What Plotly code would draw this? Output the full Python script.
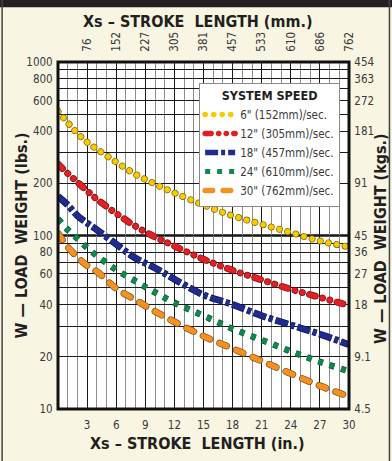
import plotly.graph_objects as go

stroke_in = [0, 1, 2, 3, 4, 6, 8, 10, 12, 15, 18, 21, 24, 27, 30]

# Load weight (lbs.) for each system speed
w_6 = [520, 447, 388, 345, 315, 265, 225, 198, 176, 150, 130, 116, 104, 93, 86]
w_12 = [258, 228, 203, 181, 162, 134, 113, 98, 87, 73, 63, 55.5, 49, 44, 39.5]
w_18 = [168, 150, 130, 118, 108, 89, 74, 65, 56, 45.5, 40, 34.5, 30.5, 27, 23.5]
w_24 = [125, 108, 96, 85, 76.5, 63.5, 54.5, 47, 41, 34.5, 29, 25, 21.5, 18.7, 16.5]
w_30 = [103, 86, 75, 67, 62, 49.5, 42.5, 36.5, 31.8, 26.3, 22.3, 18.9, 16, 13.6, 11.8]

speed_names = ['6" (152mm)/sec.', '12" (305mm)/sec.', '18" (457mm)/sec.',
               '24" (610mm)/sec.', '30" (762mm)/sec.']

# Axis ticks
x_ticks = [3, 6, 9, 12, 15, 18, 21, 24, 27, 30]
x_mm_labels = ['76', '152', '227', '305', '381', '457', '533', '610', '686', '762']
lbs_ticks = [10, 20, 40, 60, 80, 100, 200, 400, 600, 800, 1000]
lbs_labels = ['10', '20', '40', '60', '80', '100', '200', '400', '600', '800', '1000']
kg_labels = ['4.5', '9.1', '18', '27', '36', '45', '91', '181', '272', '363', '454']
lbs_minor = [30, 50, 70, 90, 300, 500, 700, 900]

FONT = "DejaVu Sans Condensed, Liberation Sans, sans-serif"
INK = '#231f20'
TICK = '#3a3a3a'
HIDE = 'rgba(0,0,0,0)'

# colour, outline colour, width, dash, round caps
styles = [
    ('#fbc900', '#7d6400', 5.5, '0.1px,8.4px', True),
    ('#e31e24', '#7a1015', 5.5, '6px,7.5px,0.1px,7.5px,0.1px,7.5px', True),
    ('#1e2b8f', '#0e1450', 5.5, '13px,3px,4px,3px', False),
    ('#0f8a4e', '#084a2a', 5, '5px,7px', False),
    ('#f39123', '#8a4f10', 5.5, '7.5px,10.5px', True),
]
series = [w_6, w_12, w_18, w_24, w_30]

fig = go.Figure()

# outlines go on the main subplot, coloured lines on the overlay subplot above it
for vals, (col, edge, width, dash, _) in zip(series, styles):
    fig.add_trace(go.Scatter(
        x=stroke_in, y=vals, mode='lines', line_shape='spline',
        line=dict(color=edge, width=width + 1.4, dash=dash),
        showlegend=False, hoverinfo='skip'
    ))
for vals, name, (col, edge, width, dash, _) in zip(series, speed_names, styles):
    fig.add_trace(go.Scatter(
        x=stroke_in, y=vals, mode='lines', line_shape='spline', name=name,
        line=dict(color=col, width=width, dash=dash),
        xaxis='x2', yaxis='y2'
    ))

tick_font = dict(family=FONT, size=11.5, color=TICK)
title_font = dict(family=FONT, size=16, color=INK)

fig.update_layout(
    width=392, height=461,
    margin=dict(l=58, r=43, t=62, b=52),
    paper_bgcolor='#f8f5e3',
    plot_bgcolor='white',
    font=dict(family=FONT, color=INK),
    xaxis=dict(
        range=[0, 30], tickvals=x_ticks, ticktext=[str(t) for t in x_ticks],
        tickfont=tick_font, ticks='outside', ticklen=5, tickcolor=HIDE,
        showgrid=True, gridcolor='#1a1a1a', gridwidth=1.2, zeroline=False,
        minor=dict(dtick=1, tick0=0, showgrid=True, gridcolor='#8c8c8c', gridwidth=1),
    ),
    yaxis=dict(
        type='log', range=[1, 3], tickvals=lbs_ticks, ticktext=lbs_labels,
        tickfont=tick_font, ticks='outside', ticklen=2, tickcolor=HIDE,
        showgrid=True, gridcolor='#1a1a1a', gridwidth=1, zeroline=False,
        minor=dict(tickvals=lbs_minor, showgrid=True, gridcolor='#1a1a1a', gridwidth=1),
    ),
    xaxis2=dict(
        overlaying='x', side='top', range=[0, 30],
        tickvals=x_ticks, ticktext=x_mm_labels, tickangle=-90,
        tickfont=tick_font, ticks='outside', ticklen=7, tickcolor=HIDE,
        showgrid=False, zeroline=False,
    ),
    yaxis2=dict(
        overlaying='y', side='right', type='log', range=[1, 3],
        tickvals=lbs_ticks, ticktext=kg_labels,
        tickfont=tick_font, ticks='outside', ticklen=2, tickcolor=HIDE,
        showgrid=False, zeroline=False,
    ),
    legend=dict(
        x=0.485, y=0.94, xanchor='left', yanchor='top',
        bgcolor='white', bordercolor='#8a8a8a', borderwidth=1,
        font=dict(family=FONT, size=11.5, color=TICK),
        title=dict(text='<b>SYSTEM SPEED</b>', side='top center',
                   font=dict(family=FONT, size=12.5, color=INK)),
        tracegroupgap=0,
    ),
    showlegend=True,
)

# heavier grid line at 100 lbs and the thick plot frame
fig.add_shape(type='line', xref='paper', yref='y', x0=0, x1=1, y0=100, y1=100,
              line=dict(color='#111', width=2.5), layer='below')
fig.add_shape(type='rect', xref='paper', yref='paper', x0=0, x1=1, y0=0, y1=1,
              line=dict(color='#111', width=3), layer='above')

# page frame: black band on top, thin rules at the sides
fig.add_shape(type='rect', xref='paper', yref='paper', x0=-0.3, x1=1.3, y0=1.158, y1=1.3,
              fillcolor=INK, line_width=0)
fig.add_shape(type='line', xref='paper', yref='paper', x0=-0.192, x1=-0.192, y0=-0.3, y1=1.2,
              line=dict(color='#444', width=1.5))
fig.add_shape(type='line', xref='paper', yref='paper', x0=1.139, x1=1.139, y0=-0.3, y1=1.2,
              line=dict(color='#444', width=1.5))

# axis titles
fig.add_annotation(text='<b>Xs – STROKE  LENGTH (mm.)</b>', xref='paper', yref='paper',
                   x=0.481, y=1.118, showarrow=False, font=title_font,
                   xanchor='center', yanchor='middle')
fig.add_annotation(text='<b>Xs – STROKE  LENGTH (in.)</b>', xref='paper', yref='paper',
                   x=0.481, y=-0.1, showarrow=False, font=title_font,
                   xanchor='center', yanchor='middle')
fig.add_annotation(text='<b>W — LOAD  WEIGHT (lbs.)</b>', xref='paper', yref='paper',
                   x=-0.124, y=0.5, showarrow=False, font=title_font, textangle=-90,
                   xanchor='center', yanchor='middle')
fig.add_annotation(text='<b>W — LOAD  WEIGHT (kgs.)</b>', xref='paper', yref='paper',
                   x=1.11, y=0.49, showarrow=False, font=title_font, textangle=-90,
                   xanchor='center', yanchor='middle')

# page has a default 8px body margin; drop it.
# round caps for the dotted / capsule styles (plotly has no linecap option)
round_idx = [i for i, s in enumerate(styles) if s[4]]
n = len(styles)
post = """
document.body.style.margin = '0';
var gd = document.getElementById('{plot_id}');
var rnd = %s, n = %d;
var tr = gd.querySelectorAll('.scatterlayer .trace');
rnd.forEach(function(i) {
  [i, i + n].forEach(function(k) {
    if (tr[k]) tr[k].querySelectorAll('path.js-line').forEach(function(p) {
      p.style.strokeLinecap = 'round';
    });
  });
});
var lg = gd.querySelectorAll('.legend .traces');
rnd.forEach(function(i) {
  if (lg[i]) lg[i].querySelectorAll('path').forEach(function(p) {
    p.style.strokeLinecap = 'round';
  });
});
""" % (round_idx, n)

fig.write_html("out.html", post_script=post, config={'displayModeBar': False})
